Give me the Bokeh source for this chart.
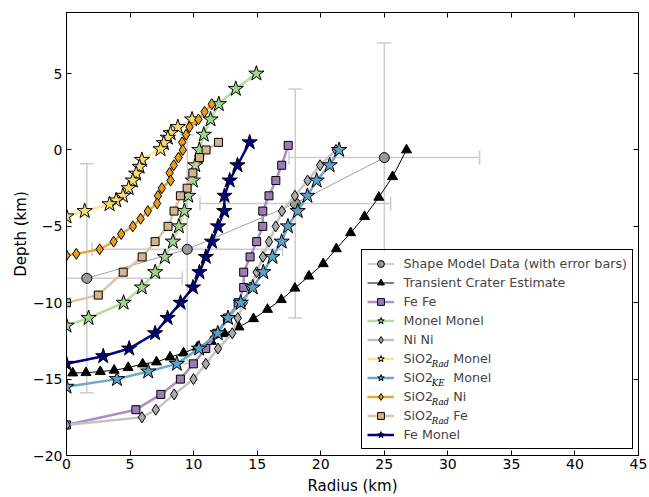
from bokeh.plotting import figure
from bokeh.models import (ColumnDataSource, Whisker, TeeHead, Legend, LegendItem,
                          FixedTicker, LinearAxis, BoxAnnotation, Range1d)
from bokeh.core.properties import value
from bokeh.embed import file_html
from bokeh.resources import INLINE

# ---------------- data ----------------
x_ticks = [0, 5, 10, 15, 20, 25, 30, 35, 40, 45]
x_tick_labels = ["0", "5", "10", "15", "20", "25", "30", "35", "40", "45"]
y_ticks = [-20, -15, -10, -5, 0, 5]
y_tick_labels = ["\u221220", "\u221215", "\u221210", "\u22125", "0", "5"]

shape_x = [1.6, 9.5, 18.0, 25.0]
shape_y = [-8.4, -6.5, -3.5, -0.5]
shape_xerr = [7.5, 7.5, 7.5, 7.5]
shape_yerr = [7.5, 7.5, 7.5, 7.5]

transient_x = [0.49, 1.53, 2.66, 3.75, 4.85, 5.99, 7.08, 8.15, 9.21, 10.29, 11.39, 12.45, 13.57,
               14.71, 15.81, 16.9, 17.97, 19.07, 20.2, 21.23, 22.35, 23.45, 24.57, 25.65, 26.75]
transient_y = [-14.60, -14.58, -14.51, -14.42, -14.25, -14.01, -13.88, -13.56, -13.29, -12.92,
               -12.53, -12.03, -11.59, -11.05, -10.44, -9.8, -9.05, -8.26, -7.45, -6.47, -5.42,
               -4.36, -3.1, -1.75, 0.0]

fefe_x = [17.44, 16.93, 16.47, 15.93, 15.44, 15.44, 14.96, 14.44, 13.94, 13.94, 13.5, 12.66,
          11.82, 10.96, 9.98, 8.96, 7.42, 5.46, 0.0]
fefe_y = [0.3, -1, -2, -3, -4, -5, -6, -7, -8, -9, -10, -11, -12, -13, -14, -15, -16, -17, -18]

monel_x = [14.94, 13.32, 11.98, 11.33, 10.8, 10.45, 10.13, 9.94, 9.58, 9.27, 8.84, 8.37, 7.74,
           6.98, 5.93, 4.49, 1.74, 0.0]
monel_y = [5, 4, 3, 2, 1, 0, -1, -2, -3, -4, -5, -6, -7, -8, -9, -10, -11, -11.5]

nini_x = [21.2, 19.95, 18.97, 17.97, 16.95, 16.46, 15.93, 15.45, 14.96, 14.45, 13.94, 13.47,
          13.04, 11.92, 10.96, 9.99, 8.47, 7.03, 5.93, 0.0]
nini_y = [0, -1, -2, -3, -4, -5, -6, -7, -8, -9, -10, -11, -12, -13, -14, -15, -16, -17, -17.5, -18]

rad_monel_x = [9.88, 8.76, 8.19, 7.97, 7.66, 7.4, 5.93, 5.75, 5.48, 5.22, 4.89, 4.44, 3.91, 3.39,
               1.43, 0.0]
rad_monel_y = [2.0, 1.5, 1.1, 0.8, 0.45, 0.05, -0.65, -1.1, -1.55, -2.0, -2.5, -3.0, -3.3, -3.55,
               -4.0, -4.35]

ke_monel_x = [21.45, 20.7, 19.68, 18.95, 18.19, 17.42, 16.93, 16.2, 15.48, 14.65, 13.71, 12.71,
              11.9, 10.43, 8.68, 6.43, 3.97, 0.0]
ke_monel_y = [0, -1, -2, -3, -4, -5, -6, -7, -8, -9, -10, -11, -12, -13, -14, -14.5, -15, -15.5]

rad_ni_x = [11.43, 10.86, 10.38, 9.68, 9.41, 9.1, 9.15, 8.81, 8.44, 8.11, 8.19, 7.5, 7.19, 7.13,
            6.4, 5.83, 5.22, 4.3, 3.71, 2.61, 0.77, 0.0]
rad_ni_y = [3.0, 2.5, 2.0, 1.5, 1.0, 0.5, 0, -0.5, -1.0, -1.5, -2.0, -2.5, -3.0, -3.5, -4.0, -4.5,
            -5.0, -5.5, -6.0, -6.5, -6.8, -6.9]

rad_fe_x = [11.96, 10.98, 10.46, 9.94, 9.49, 8.96, 8.46, 7.99, 6.97, 5.95, 4.46, 2.5, 0.0]
rad_fe_y = [0.5, 0, -0.5, -1.5, -2.5, -3, -4, -5, -6, -7, -8, -9.5, -10]

femonel_x = [14.41, 13.45, 12.84, 12.43, 12.41, 11.92, 11.45, 10.96, 10.46, 9.95, 8.97, 7.95,
             6.97, 4.93, 2.89, 0.0]
femonel_y = [0.5, -1, -2, -3, -4, -5, -6, -7, -8, -9, -10, -11, -12, -13, -13.5, -14]

# legend subscripts (text, anchor in axis units)
sub_texts = ["Rad", "KE", "Rad", "Rad"]
sub_x = [28.74, 28.74, 28.74, 28.74]
sub_y = [-14.0, -15.25, -16.5, -17.74]

FONT = "DejaVu Sans"

p = figure(width=649, height=497, x_range=Range1d(0, 45), y_range=Range1d(-20, 9),
           output_backend="svg", toolbar_location=None,
           min_border_left=66, min_border_right=11, min_border_top=12, min_border_bottom=42)
p.xgrid.visible = False
p.ygrid.visible = False
p.outline_line_color = "black"
p.outline_line_width = 1
p.outline_line_alpha = 1
p.background_fill_color = "white"
p.border_fill_color = "white"


def style_axis(ax, ticks, labels, show_labels=True):
    ax.ticker = FixedTicker(ticks=ticks)
    ax.major_tick_in = 5
    ax.major_tick_out = 0
    ax.minor_tick_line_color = None
    ax.major_tick_line_color = "black"
    ax.axis_line_color = "black"
    ax.major_label_text_font = FONT
    if show_labels:
        ax.major_label_overrides = {t: l for t, l in zip(ticks, labels)}
        ax.major_label_text_font_size = "14px"
        ax.major_label_text_color = "black"
    else:
        ax.major_label_text_font_size = "0px"
        ax.major_label_text_color = None
        ax.major_label_standoff = 0


style_axis(p.xaxis[0], x_ticks, x_tick_labels)
style_axis(p.yaxis[0], y_ticks, y_tick_labels)
p.xaxis[0].major_label_standoff = 3
p.yaxis[0].major_label_standoff = 4
p.xaxis[0].axis_label = "Radius (km)"
p.yaxis[0].axis_label = "Depth (km)"
for ax in (p.xaxis[0], p.yaxis[0]):
    ax.axis_label_text_font = FONT
    ax.axis_label_text_font_size = "15px"
    ax.axis_label_text_font_style = "normal"
    ax.axis_label_text_color = "black"
p.xaxis[0].axis_label_standoff = 5
p.yaxis[0].axis_label_standoff = 0

top_axis = LinearAxis()
style_axis(top_axis, x_ticks, x_tick_labels, show_labels=False)
p.add_layout(top_axis, "above")
right_axis = LinearAxis()
style_axis(right_axis, y_ticks, y_tick_labels, show_labels=False)
p.add_layout(right_axis, "right")

# error bars
err_src = ColumnDataSource(dict(
    x=shape_x, y=shape_y,
    xl=[a - e for a, e in zip(shape_x, shape_xerr)],
    xu=[a + e for a, e in zip(shape_x, shape_xerr)],
    yl=[a - e for a, e in zip(shape_y, shape_yerr)],
    yu=[a + e for a, e in zip(shape_y, shape_yerr)],
))
ERR = "#cccccc"
for dim, base, lo, up in (("height", "x", "yl", "yu"), ("width", "y", "xl", "xu")):
    w = Whisker(base=base, lower=lo, upper=up, dimension=dim, source=err_src,
                line_color=ERR, line_width=1.5,
                upper_head=TeeHead(size=14, line_color=ERR, line_width=1.5),
                lower_head=TeeHead(size=14, line_color=ERR, line_width=1.5))
    p.add_layout(w)

NB = "\u00a0\u00a0\u00a0\u00a0 "
series = [
    ("Shape Model Data (with error bars)", shape_x, shape_y, "circle", 10, "#999999", "#a0a0a0", 1),
    ("Transient Crater Estimate", transient_x, transient_y, "triangle", 10, "black", "black", 1),
    ("Fe Fe", fefe_x, fefe_y, "square", 8, "#9b7db5", "#a98fc6", 2.5),
    ("Monel Monel", monel_x, monel_y, "star", 16, "#a3d38a", "#b5dd9d", 2.5),
    ("Ni Ni", nini_x, nini_y, "diamond", 11, "#aaaaaa", "#c4c4c4", 2.5),
    ("SiO2" + NB + "Monel", rad_monel_x, rad_monel_y, "star", 16, "#f8dc70", "#fde58c", 2.5),
    ("SiO2" + NB + "Monel", ke_monel_x, ke_monel_y, "star", 16, "#5ba2c8", "#6aa8cb", 2.5),
    ("SiO2" + NB + "Ni", rad_ni_x, rad_ni_y, "diamond", 11, "#e89c17", "#eca432", 2.5),
    ("SiO2" + NB + "Fe", rad_fe_x, rad_fe_y, "square", 8, "#d4b48c", "#dfc4a2", 2.5),
    ("Fe Monel", femonel_x, femonel_y, "star", 16, "#000080", "#00008b", 2.5),
]

items = []
for label, xs, ys, marker, size, fill, lcol, lw in series:
    src = ColumnDataSource(dict(x=xs, y=ys))
    r1 = p.line("x", "y", source=src, line_color=lcol, line_width=lw)
    r2 = p.scatter("x", "y", source=src, marker=marker, size=size, fill_color=fill,
                   line_color="black", line_width=1)
    items.append(LegendItem(label=label, renderers=[r1, r2]))

# white backing of the legend box (legend itself transparent so subscripts show)
p.add_layout(BoxAnnotation(left=23.21, right=44.53, top=-6.645, bottom=-19.607,
                           fill_color="white", fill_alpha=1, line_color=None,
                           level="guide", propagate_hover=False))

legend = Legend(items=items, location=(294.5, 6), margin=0, padding=5, spacing=2,
                glyph_width=27, glyph_height=17, label_height=17, label_standoff=10,
                label_text_font=FONT, label_text_font_size="12.7px",
                border_line_color="black", border_line_width=1, border_line_alpha=1,
                background_fill_alpha=0)
p.add_layout(legend)

sub_src = ColumnDataSource(dict(x=sub_x, y=sub_y, t=sub_texts))
p.text("x", "y", text="t", source=sub_src, level="overlay",
       text_font=value("DejaVu Serif"), text_font_style="italic",
       text_font_size="8.5px", text_baseline="middle", text_align="left",
       text_color="black")

open("out.html", "w").write(file_html(p, INLINE))
